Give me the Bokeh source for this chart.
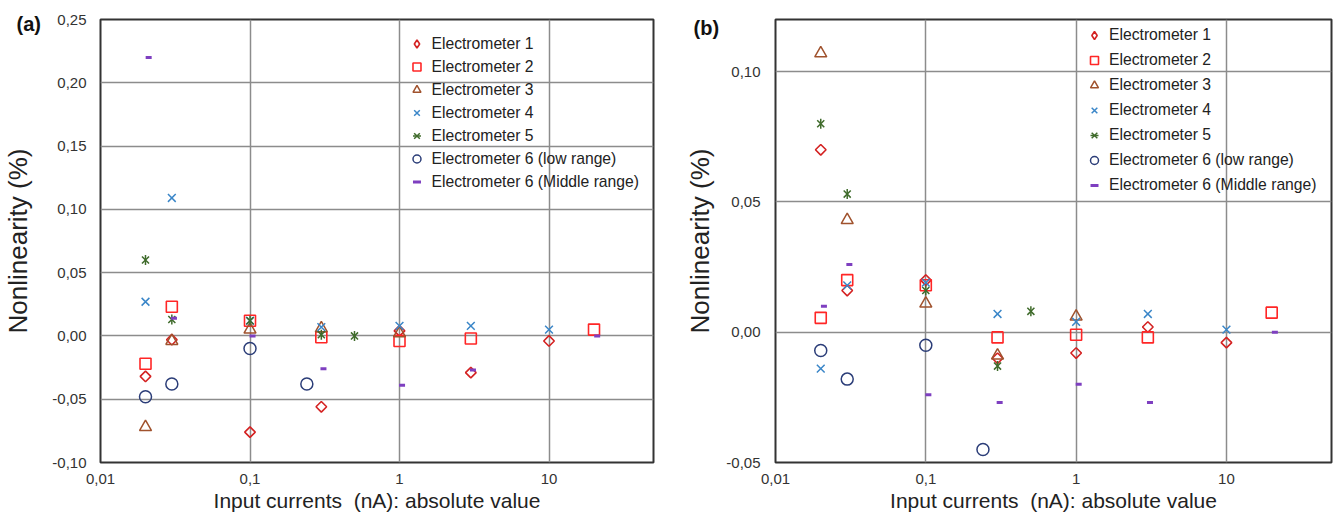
import math
from bokeh.plotting import figure
from bokeh.models import (Range1d, FixedTicker, CustomJSTickFormatter, Legend,
                          LegendItem, Title)
from bokeh.layouts import row
from bokeh.embed import file_html
from bokeh.resources import INLINE

# ---------------- data ----------------
series_names = ["Electrometer 1", "Electrometer 2", "Electrometer 3",
                "Electrometer 4", "Electrometer 5",
                "Electrometer 6 (low range)", "Electrometer 6 (Middle range)"]

x_ticks = [0.01, 0.1, 1, 10]
x_tick_labels = ["0,01", "0,1", "1", "10"]

# Panel (a)
a_e1_x = [0.02, 0.03, 0.1, 0.3, 1, 3, 10]
a_e1_y = [-0.032, -0.003, -0.076, -0.056, 0.004, -0.029, -0.004]
a_e2_x = [0.02, 0.03, 0.1, 0.3, 1, 3, 20]
a_e2_y = [-0.022, 0.023, 0.012, -0.001, -0.004, -0.002, 0.005]
a_e3_x = [0.02, 0.03, 0.1, 0.3, 1]
a_e3_y = [-0.072, -0.004, 0.005, 0.006, 0.002]
a_e4_x = [0.02, 0.03, 0.1, 0.3, 1, 3, 10]
a_e4_y = [0.027, 0.109, 0.012, 0.007, 0.008, 0.008, 0.005]
a_e5_x = [0.02, 0.03, 0.1, 0.3, 0.5]
a_e5_y = [0.060, 0.013, 0.012, 0.001, 0.0]
a_e6l_x = [0.02, 0.03, 0.1, 0.24]
a_e6l_y = [-0.048, -0.038, -0.010, -0.038]
a_e6m_x = [0.021, 0.031, 0.104, 0.31, 1.04, 3.1, 21]
a_e6m_y = [0.220, 0.014, 0.0, -0.026, -0.039, -0.027, 0.0]
a_y_ticks = [-0.10, -0.05, 0.0, 0.05, 0.10, 0.15, 0.20, 0.25]
a_y_tick_labels = ["-0,10", "-0,05", "0,00", "0,05", "0,10", "0,15", "0,20", "0,25"]

# Panel (b)
b_e1_x = [0.02, 0.03, 0.1, 0.3, 1, 3, 10]
b_e1_y = [0.070, 0.016, 0.020, -0.010, -0.008, 0.002, -0.004]
b_e2_x = [0.02, 0.03, 0.1, 0.3, 1, 3, 20]
b_e2_y = [0.0055, 0.020, 0.018, -0.002, -0.001, -0.002, 0.0075]
b_e3_x = [0.02, 0.03, 0.1, 0.3, 1]
b_e3_y = [0.107, 0.043, 0.011, -0.009, 0.006]
b_e4_x = [0.02, 0.03, 0.1, 0.3, 1, 3, 10]
b_e4_y = [-0.014, 0.018, 0.019, 0.007, 0.004, 0.007, 0.001]
b_e5_x = [0.02, 0.03, 0.1, 0.3, 0.5]
b_e5_y = [0.080, 0.053, 0.016, -0.013, 0.008]
b_e6l_x = [0.02, 0.03, 0.1, 0.24]
b_e6l_y = [-0.007, -0.018, -0.005, -0.045]
b_e6m_x = [0.021, 0.031, 0.104, 0.31, 1.04, 3.1, 21]
b_e6m_y = [0.010, 0.026, -0.024, -0.027, -0.020, -0.027, 0.0]
b_y_ticks = [-0.05, 0.0, 0.05, 0.10]
b_y_tick_labels = ["-0,05", "0,00", "0,05", "0,10"]

# ---------------- styling ----------------
FONT = "Liberation Sans"
C_E1 = "#d42222"
C_E2 = "#ff2626"
C_E3 = "#a0522d"
C_E4 = "#3a86c8"
C_E5 = "#3f6b2b"
C_E6L = "#2b3d78"
C_E6M = "#7e3fc0"
NAN = float("nan")

XFMT = CustomJSTickFormatter(args=dict(tv=x_ticks, tl=x_tick_labels), code="""
let best = 0;
for (let i = 0; i < tv.length; i++) {
  if (Math.abs(Math.log10(tv[i]) - Math.log10(tick)) <
      Math.abs(Math.log10(tv[best]) - Math.log10(tick))) best = i;
}
return tl[best];
""")


def yfmt(tvals, tlabels):
    return CustomJSTickFormatter(args=dict(tv=tvals, tl=tlabels), code="""
let best = 0;
for (let i = 0; i < tv.length; i++) {
  if (Math.abs(tv[i] - tick) < Math.abs(tv[best] - tick)) best = i;
}
return tl[best];
""")


def make_panel(data, y_range, y_ticks, y_labels, width, min_left, min_right,
               panel_text, panel_offset, panel_standoff, leg_margin,
               leg_padding, leg_spacing, leg_label_h, leg_label_w,
               ylab_standoff, ytick_standoff):
    p = figure(width=width, height=514, x_axis_type="log",
               x_range=Range1d(0.01, 50), y_range=Range1d(*y_range),
               output_backend="svg", toolbar_location=None,
               min_border_left=min_left, min_border_right=min_right,
               min_border_top=19, min_border_bottom=0)
    p.background_fill_color = "white"
    p.border_fill_color = "white"
    p.outline_line_color = "#333333"
    p.outline_line_width = 2

    p.xaxis.ticker = FixedTicker(ticks=x_ticks, minor_ticks=[])
    p.xaxis.formatter = XFMT
    p.yaxis.ticker = FixedTicker(ticks=y_ticks, minor_ticks=[])
    p.yaxis.formatter = yfmt(y_ticks, y_labels)
    for ax in (p.xaxis, p.yaxis):
        ax.axis_line_color = None
        ax.major_tick_line_color = None
        ax.minor_tick_line_color = None
        ax.major_label_text_font = FONT
        ax.major_label_text_font_size = "15px"
        ax.major_label_text_color = "#333333"
        ax.axis_label_text_font = FONT
        ax.axis_label_text_font_style = "normal"
        ax.axis_label_text_color = "#222222"
    p.xaxis.axis_label = "Input currents\u00a0 (nA): absolute value"
    p.xaxis.axis_label_text_font_size = "21px"
    p.xaxis.major_label_standoff = 5
    p.xaxis.axis_label_standoff = 2
    p.yaxis.axis_label = "Nonlinearity (%)"
    p.yaxis.axis_label_text_font_size = "26px"
    p.yaxis.major_label_standoff = ytick_standoff
    p.yaxis.axis_label_standoff = ylab_standoff

    for g in (p.xgrid, p.ygrid):
        g.grid_line_color = "#8c8c8c"
        g.grid_line_width = 1.5

    (e1x, e1y, e2x, e2y, e3x, e3y, e4x, e4y, e5x, e5y,
     e6lx, e6ly, e6mx, e6my) = data

    p.scatter(e1x, e1y, marker="square", angle=math.pi / 4, size=7.5,
              fill_color=None, line_color=C_E1, line_width=1.6)
    # legend swatch for the diamond series (no data of its own)
    r1 = p.scatter([NAN], [NAN], marker="diamond", size=10,
                   fill_color=None, line_color=C_E1, line_width=1.6)
    r2 = p.scatter(e2x, e2y, marker="square", size=11,
                   fill_color=None, line_color=C_E2, line_width=1.6)
    r3 = p.scatter(e3x, e3y, marker="triangle", size=12,
                   fill_color=None, line_color=C_E3, line_width=1.5)
    r4 = p.scatter(e4x, e4y, marker="x", size=11,
                   line_color=C_E4, line_width=1.5)
    r5a = p.scatter(e5x, e5y, marker="x", size=10,
                    line_color=C_E5, line_width=1.5)
    r5b = p.scatter(e5x, e5y, marker="dash", angle=math.pi / 2, size=10,
                    line_color=C_E5, line_width=1.5)
    r6 = p.scatter(e6lx, e6ly, marker="circle", size=12,
                   fill_color=None, line_color=C_E6L, line_width=1.5)
    r7 = p.scatter(e6mx, e6my, marker="dash", size=6,
                   line_color=C_E6M, line_width=3)

    items = [LegendItem(label=series_names[0], renderers=[r1]),
             LegendItem(label=series_names[1], renderers=[r2]),
             LegendItem(label=series_names[2], renderers=[r3]),
             LegendItem(label=series_names[3], renderers=[r4]),
             LegendItem(label=series_names[4], renderers=[r5a, r5b]),
             LegendItem(label=series_names[5], renderers=[r6]),
             LegendItem(label=series_names[6], renderers=[r7])]
    leg = Legend(items=items, location="top_right")
    leg.background_fill_alpha = 0
    leg.border_line_alpha = 0
    leg.label_text_font = FONT
    leg.label_text_font_size = "15.7px"
    leg.label_text_color = "#222222"
    leg.glyph_width = 20
    leg.glyph_height = leg_label_h
    leg.label_height = leg_label_h
    leg.label_width = leg_label_w
    leg.label_standoff = 5
    leg.spacing = leg_spacing
    leg.margin = leg_margin
    leg.padding = leg_padding
    p.add_layout(leg, "center")

    t = Title(text=panel_text, align="left", offset=panel_offset,
              vertical_align="bottom", text_font=FONT,
              text_font_style="bold", text_font_size="20px",
              text_color="#111111", standoff=panel_standoff)
    p.add_layout(t, "above")
    return p


pa = make_panel((a_e1_x, a_e1_y, a_e2_x, a_e2_y, a_e3_x, a_e3_y, a_e4_x, a_e4_y,
                 a_e5_x, a_e5_y, a_e6l_x, a_e6l_y, a_e6m_x, a_e6m_y),
                (-0.10, 0.25), a_y_ticks, a_y_tick_labels,
                width=655, min_left=96, min_right=2, panel_text="(a)",
                panel_offset=-84, panel_standoff=-30, leg_margin=3,
                leg_padding=11, leg_spacing=2, leg_label_h=21, leg_label_w=20,
                ylab_standoff=16, ytick_standoff=8)

pb = make_panel((b_e1_x, b_e1_y, b_e2_x, b_e2_y, b_e3_x, b_e3_y, b_e4_x, b_e4_y,
                 b_e5_x, b_e5_y, b_e6l_x, b_e6l_y, b_e6m_x, b_e6m_y),
                (-0.05, 0.12), b_y_ticks, b_y_tick_labels,
                width=678, min_left=120, min_right=2, panel_text="(b)",
                panel_offset=-82, panel_standoff=-38, leg_margin=0,
                leg_padding=5, leg_spacing=3, leg_label_h=22, leg_label_w=217,
                ylab_standoff=8, ytick_standoff=9)

layout = row(pa, pb)
open("out.html", "w").write(file_html(layout, INLINE))
